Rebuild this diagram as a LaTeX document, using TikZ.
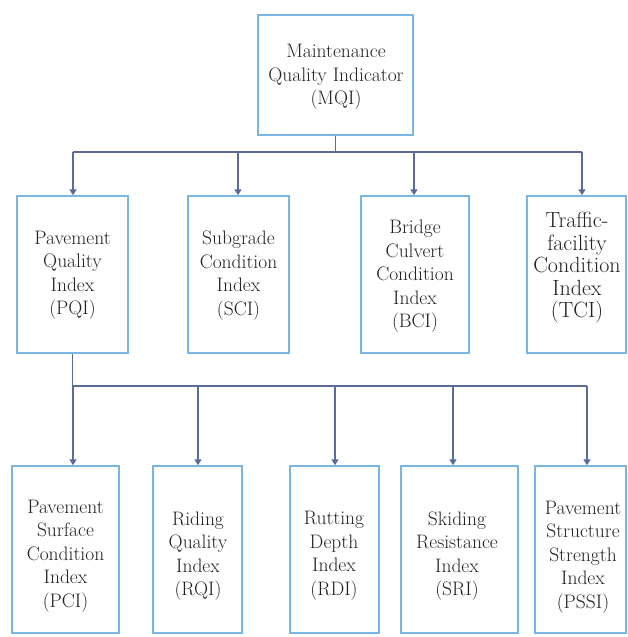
\documentclass[tikz,border=0pt]{standalone}
\usetikzlibrary{arrows.meta}
\definecolor{boxblue}{HTML}{7AB6E4}
\definecolor{linkblue}{HTML}{5A6D9A}
\definecolor{inkgray}{HTML}{222222}
\begin{document}
\begin{tikzpicture}[x=1pt,y=-1pt,
  box/.style={draw=boxblue, line width=1.5pt, fill=white, inner sep=0pt},
  txt/.style={align=center, font=\rmfamily\fontsize{19.5}{23.5}\selectfont, text=inkgray, inner sep=0pt},
  bigtxt/.style={txt, font=\rmfamily\fontsize{22}{22.5}\selectfont},
  conn/.style={draw=linkblue, line width=1.3pt},
  arr/.style={conn, -{Triangle[width=7pt,length=6pt]}}]
\useasboundingbox (0,0) rectangle (627,637);
\clip (0,0) rectangle (627,637);
\fill[white] (0,0) rectangle (627,637);

% boxes
\node[box, minimum width=155pt, minimum height=120pt] (mqi) at (335.5,75) {};
\node[box, minimum width=111pt, minimum height=157pt] (pqi) at (72.5,274.5) {};
\node[box, minimum width=101pt, minimum height=157pt] (sci) at (238.5,274.5) {};
\node[box, minimum width=108pt, minimum height=157pt] (bci) at (415,274.5) {};
\node[box, minimum width=99pt, minimum height=157pt] (tci) at (576.5,274.5) {};
\node[box, minimum width=107pt, minimum height=167pt] (pci) at (65.5,549.5) {};
\node[box, minimum width=89pt, minimum height=167pt] (rqi) at (197.5,549.5) {};
\node[box, minimum width=89pt, minimum height=167pt] (rdi) at (334.5,549.5) {};
\node[box, minimum width=117pt, minimum height=167pt] (sri) at (459.5,549.5) {};
\node[box, minimum width=91pt, minimum height=167pt] (pssi) at (580.5,549.5) {};

% texts
\node[txt] (tmqi) at (336,77) {Maintenance\\Quality Indicator\\(MQI)};
\node[txt] (tpqi) at (72.5,275.5) {Pavement\\Quality\\Index\\(PQI)};
\node[txt] (tsci) at (238.5,275.5) {Subgrade\\Condition\\Index\\(SCI)};
\node[txt] (tbci) at (415,276.5) {Bridge\\Culvert\\Condition\\Index\\(BCI)};
\node[bigtxt] (ttci) at (577,268) {Traffic-\\facility\\Condition\\Index\\(TCI)};
\node[txt] (tpci) at (65.5,556) {Pavement\\Surface\\Condition\\Index\\(PCI)};
\node[txt] (trqi) at (198,556) {Riding\\Quality\\Index\\(RQI)};
\node[txt] (trdi) at (334,556) {Rutting\\Depth\\Index\\(RDI)};
\node[txt] (tsri) at (457,556) {Skiding\\Resistance\\Index\\(SRI)};
\node[txt] (tpssi) at (583,557) {Pavement\\Structure\\Strength\\Index\\(PSSI)};

% first level connectors
\coordinate (ta) at (73,152);
\coordinate (tb) at (238,152);
\coordinate (tc) at (414,152);
\coordinate (td) at (582,152);
\draw[conn] (mqi.south) -- (mqi.south |- ta);
\draw[conn] (ta) -- (td);
\draw[arr] (ta) -- (ta |- pqi.north);
\draw[arr] (tb) -- (tb |- sci.north);
\draw[arr] (tc) -- (tc |- bci.north);
\draw[arr] (td) -- (td |- tci.north);

% second level connectors
\coordinate (ba) at (73,386);
\coordinate (bb) at (198,386);
\coordinate (bc) at (335,386);
\coordinate (bd) at (453,386);
\coordinate (be) at (587,386);
\draw[conn] (pqi.south) -- (pqi.south |- ba);
\draw[conn] (ba) -- (be);
\draw[arr] (ba) -- (ba |- pci.north);
\draw[arr] (bb) -- (bb |- rqi.north);
\draw[arr] (bc) -- (bc |- rdi.north);
\draw[arr] (bd) -- (bd |- sri.north);
\draw[arr] (be) -- (be |- pssi.north);
\end{tikzpicture}
\end{document}
